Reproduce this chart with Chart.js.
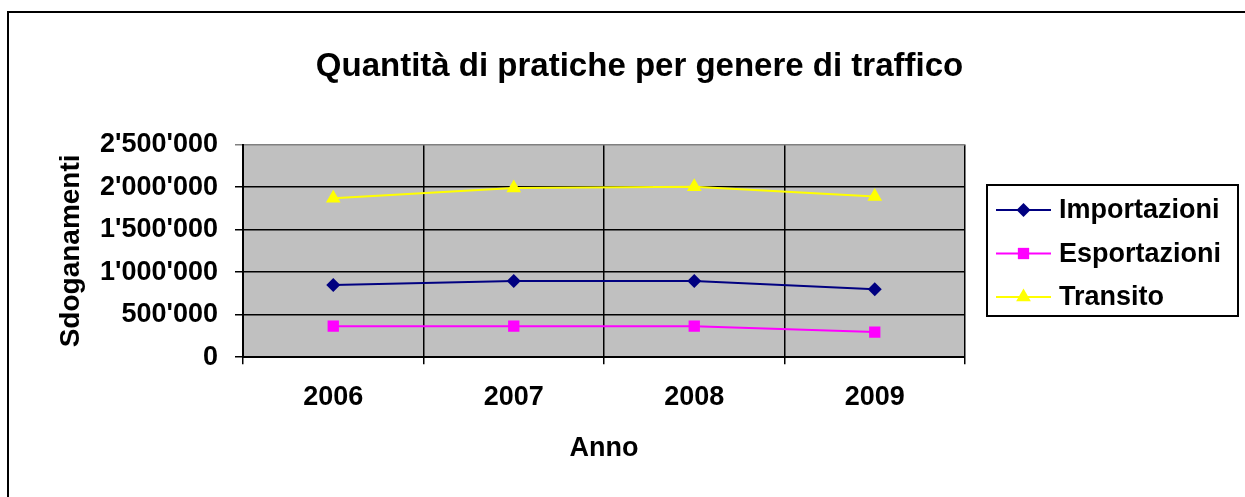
<!DOCTYPE html>
<html><head><meta charset="utf-8">
<script src="https://cdn.jsdelivr.net/npm/chart.js@4.4.1/dist/chart.umd.min.js"></script>
<style>html,body{margin:0;padding:0;background:#fff;overflow:hidden}</style>
</head><body>
<canvas id="c" width="1245" height="497"></canvas>
<script>
const categories = ['2006', '2007', '2008', '2009'];
const importazioni = [850000, 895000, 895000, 800000];
const esportazioni = [365000, 365000, 365000, 295000];
const transito = [1870000, 1990000, 2005000, 1890000];
const yTickLabels = ['0', "500'000", "1'000'000", "1'500'000", "2'000'000", "2'500'000"];
const seriesNames = ['Importazioni', 'Esportazioni', 'Transito'];
const seriesColors = ['#000080', '#FF00FF', '#FFFF00'];
const seriesMarkers = ['rectRot', 'rect', 'triangle'];
const markerRadius = [7, 8, 8.5];
const chartTitle = 'Quantità di pratiche per genere di traffico';
const xTitle = 'Anno';
const yTitle = 'Sdoganamenti';

const FONT = '"Liberation Sans", Arial, sans-serif';

function drawMarker(ctx, style, r, x, y, color) {
  ctx.save();
  ctx.fillStyle = color;
  ctx.beginPath();
  if (style === 'rectRot') {
    ctx.moveTo(x, y - r); ctx.lineTo(x + r, y); ctx.lineTo(x, y + r); ctx.lineTo(x - r, y);
  } else if (style === 'rect') {
    const s = r * Math.SQRT1_2;
    ctx.rect(x - s, y - s, 2 * s, 2 * s);
  } else {
    ctx.moveTo(x, y - r);
    ctx.lineTo(x + r * Math.sin(2 * Math.PI / 3), y + r * 0.5);
    ctx.lineTo(x - r * Math.sin(2 * Math.PI / 3), y + r * 0.5);
  }
  ctx.closePath();
  ctx.fill();
  ctx.restore();
}

const decorPlugin = {
  id: 'decor',
  beforeDraw(chart) {
    const ctx = chart.ctx, a = chart.chartArea;
    ctx.save();
    ctx.fillStyle = '#fff';
    ctx.fillRect(0, 0, chart.width, chart.height);
    ctx.strokeStyle = '#000';
    ctx.lineWidth = 2;
    ctx.strokeRect(8, 12, chart.width + 20, chart.height + 20);
    ctx.fillStyle = '#C0C0C0';
    ctx.fillRect(a.left, a.top, a.right - a.left, a.bottom - a.top);
    ctx.restore();
  },
  afterDraw(chart) {
    const ctx = chart.ctx;
    ctx.save();
    ctx.strokeStyle = '#000';
    ctx.lineWidth = 2;
    ctx.strokeRect(987, 185, 251, 131);
    const ys = [210, 253.5, 297];
    chart.data.datasets.forEach((ds, i) => {
      const y = ys[i];
      ctx.strokeStyle = ds.borderColor;
      ctx.lineWidth = 2;
      ctx.beginPath(); ctx.moveTo(996, y); ctx.lineTo(1051, y); ctx.stroke();
      drawMarker(ctx, ds.pointStyle, ds.pointRadius, 1023.5, y, ds.borderColor);
      ctx.fillStyle = '#000';
      ctx.font = 'bold 27px ' + FONT;
      ctx.textAlign = 'left';
      ctx.textBaseline = 'middle';
      ctx.fillText(ds.label, 1059, y + 1);
    });
    ctx.restore();
  }
};

const datasets = [importazioni, esportazioni, transito].map((vals, i) => ({
  label: seriesNames[i],
  data: vals,
  borderColor: seriesColors[i],
  backgroundColor: seriesColors[i],
  pointBackgroundColor: seriesColors[i],
  pointBorderColor: seriesColors[i],
  pointBorderWidth: 0,
  pointStyle: seriesMarkers[i],
  pointRadius: markerRadius[i],
  borderWidth: 2,
  tension: 0,
  yAxisID: 'y'
}));

new Chart(document.getElementById('c'), {
  type: 'line',
  data: { labels: categories, datasets },
  options: {
    responsive: false,
    animation: false,
    devicePixelRatio: 1,
    layout: { padding: { left: 34, right: 0, top: 0, bottom: 0 } },
    plugins: {
      legend: { display: false },
      tooltip: { enabled: false },
      title: {
        display: true,
        text: chartTitle,
        color: '#000',
        font: { family: FONT, size: 33, weight: 'bold' },
        padding: { top: 47, bottom: 58 }
      }
    },
    scales: {
      x: {
        offset: true,
        grid: {
          offset: true,
          color: (c) => c.index === categories.length ? '#808080' : '#000',
          lineWidth: 1.5,
          tickLength: 7,
          drawTicks: true
        },
        border: { display: true, color: '#000', width: 2 },
        ticks: { color: '#000', padding: 17, font: { family: FONT, size: 27, weight: 'bold' } },
        title: { display: true, text: xTitle, color: '#000', font: { family: FONT, size: 27, weight: 'bold' }, padding: { top: 2, bottom: 32 } }
      },
      y: {
        min: 0, max: 2500000,
        afterFit: (s) => { s.width = 209; },
        grid: {
          color: (c) => c.index === yTickLabels.length - 1 ? '#808080' : '#000',
          lineWidth: 1.5,
          tickLength: 8
        },
        border: { display: true, color: '#000', width: 2 },
        ticks: {
          stepSize: 500000,
          color: '#000',
          padding: 17,
          font: { family: FONT, size: 27, weight: 'bold' },
          callback: (v, i) => yTickLabels[i]
        },
        title: { display: true, text: yTitle, color: '#000', font: { family: FONT, size: 28, weight: 'bold' }, padding: { top: 20, bottom: 0 } }
      },
      y2: {
        position: 'right',
        display: true,
        afterFit: (s) => { s.width = 280; },
        grid: { display: false, drawTicks: false },
        border: { display: false },
        ticks: { display: false }
      }
    }
  },
  plugins: [decorPlugin]
});
</script>
</body></html>
